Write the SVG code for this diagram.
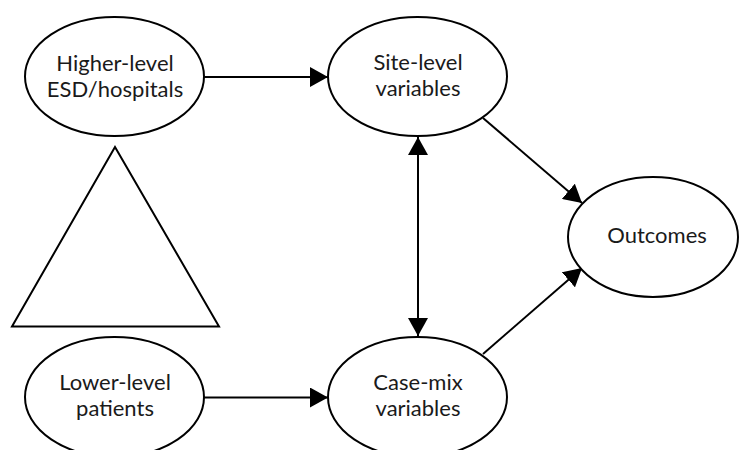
<svg xmlns="http://www.w3.org/2000/svg" width="739" height="450" viewBox="0 0 739 450">
<defs>
<marker id="ah" markerUnits="userSpaceOnUse" markerWidth="19" markerHeight="20" refX="18" refY="10" orient="auto-start-reverse" viewBox="0 0 19 20">
<path d="M0,0 L18,10 L0,20 z" fill="#000"/>
</marker>
<style>
.n{fill:#fff;stroke:#000;stroke-width:2}
.t{font-family:Lato,"Liberation Sans",sans-serif;font-size:22px;fill:#1a1a1a;text-anchor:middle}
.c{stroke:#000;stroke-width:2;fill:none}
</style>
</defs>
<rect width="739" height="450" fill="#fff"/>
<g id="connectors">
<line class="c" x1="204" y1="77" x2="328" y2="77" marker-end="url(#ah)"/>
<line class="c" x1="204" y1="397.5" x2="328" y2="397.5" marker-end="url(#ah)"/>
<line class="c" x1="418" y1="137" x2="418" y2="336" marker-start="url(#ah)" marker-end="url(#ah)"/>
<line class="c" x1="483" y1="118" x2="582" y2="203" marker-end="url(#ah)"/>
<line class="c" x1="483" y1="354" x2="582" y2="268" marker-end="url(#ah)"/>
</g>
<g id="higher">
<ellipse class="n" cx="114.5" cy="76.5" rx="89.5" ry="59.5"/>
<text class="t" x="115" y="71">Higher-level</text>
<text class="t" x="115" y="97">ESD/hospitals</text>
</g>
<g id="triangle">
<polygon points="115,147 12,326.5 219,326.5" fill="#fff" stroke="#000" stroke-width="2"/>
</g>
<g id="site">
<ellipse class="n" cx="417.5" cy="76.5" rx="89.5" ry="59.5"/>
<text class="t" x="418" y="70">Site-level</text>
<text class="t" x="418" y="96">variables</text>
</g>
<g id="outcomes">
<ellipse class="n" cx="653" cy="237" rx="85" ry="60"/>
<text class="t" x="657" y="243">Outcomes</text>
</g>
<g id="lower">
<ellipse class="n" cx="114.5" cy="397" rx="89.5" ry="60"/>
<text class="t" x="115" y="390">Lower-level</text>
<text class="t" x="115" y="416">patients</text>
</g>
<g id="casemix">
<ellipse class="n" cx="417.5" cy="397" rx="89.5" ry="60"/>
<text class="t" x="418" y="390">Case-mix</text>
<text class="t" x="418" y="416">variables</text>
</g>
</svg>
